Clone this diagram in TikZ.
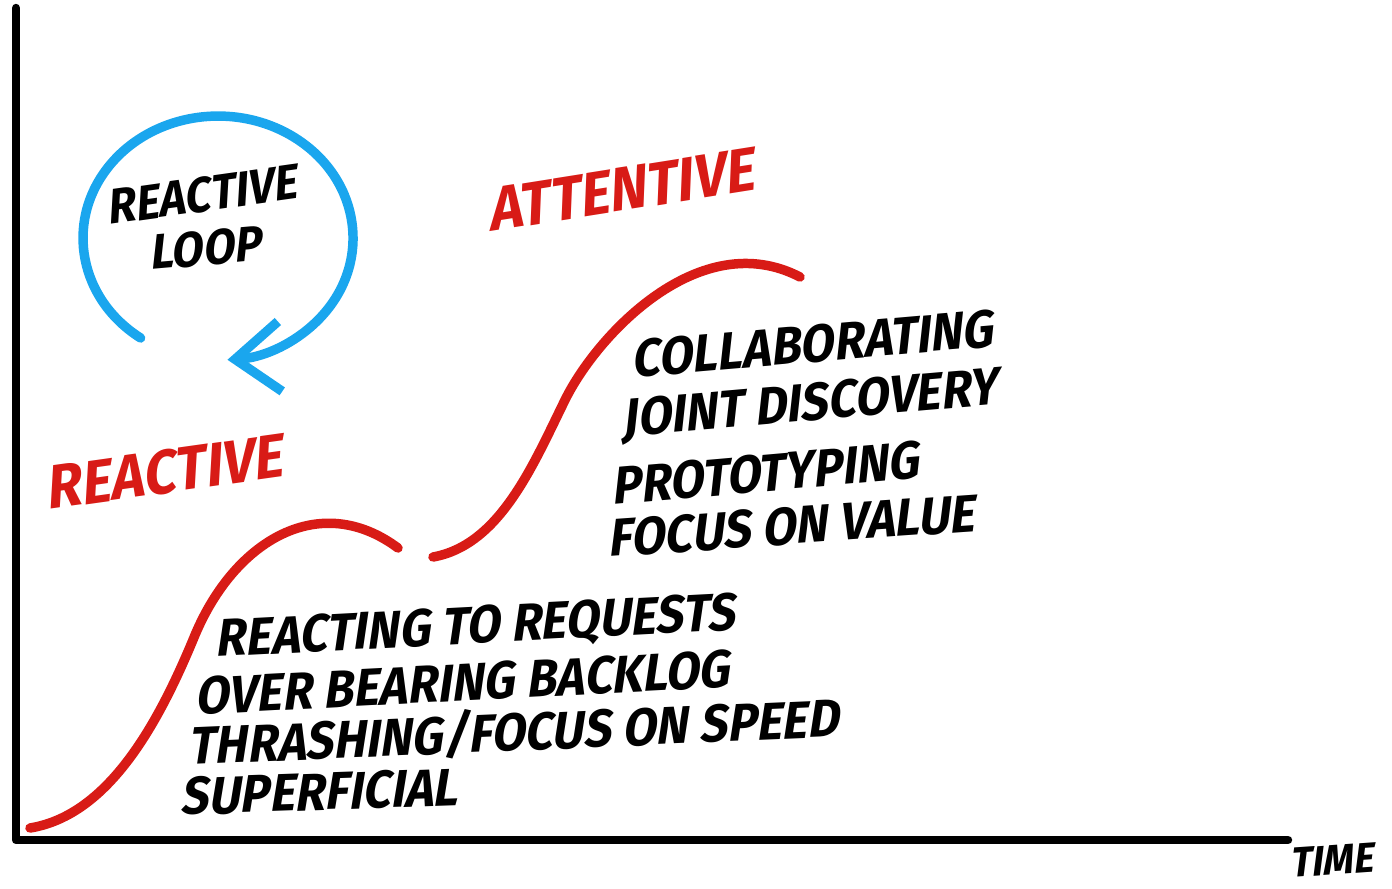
\documentclass[tikz,border=0pt]{standalone}
\usepackage{fontspec}
\usepackage{tikz}
\usetikzlibrary{arrows.meta}
\newfontfamily\handfont{Fira Sans}[FakeStretch=0.92, FakeSlant=0.2]
\definecolor{loopblue}{HTML}{1AA6EE}
\definecolor{markerred}{HTML}{D81B16}

\begin{document}
\begin{tikzpicture}[every node/.style={inner sep=0pt, anchor=base west}]
        \useasboundingbox (0,0) rectangle (13.92,8.88);
        \tikzset{
          hand/.style={font=\handfont\bfseries\fontsize{15}{17}\selectfont},
          redhand/.style={font=\handfont\bfseries\fontsize{17.5}{20}\selectfont, text=markerred},
          stroke/.style={line width=2.7pt, line cap=round}
        }
        % Axes
        \coordinate (ytop) at (0.16,8.80);
        \coordinate (origin) at (0.16,0.48);
        \coordinate (xend) at (12.88,0.48);
        \draw[line width=2.4pt, line cap=round, line join=round] (ytop) -- (origin) -- (xend);
        \node[hand, font=\handfont\bfseries\fontsize{12}{14}\selectfont, rotate=4] (time) at (12.90,0.10) {TIME};

        % Reactive loop
        \draw[stroke, loopblue, -{Straight Barb[length=4.5mm, width=7mm]}]
          (1.406,5.50) arc[start angle=235, end angle=-86, x radius=1.35, y radius=1.22];
        \node[hand, font=\handfont\bfseries\fontsize{14}{16}\selectfont, rotate=8] (loopA) at (1.08,6.63) {REACTIVE};
        \node[hand, font=\handfont\bfseries\fontsize{14}{16}\selectfont, rotate=5] (loopB) at (1.50,6.18) {LOOP};

        % Reactive stage
        \node[redhand, rotate=8] (reactive) at (0.47,3.78) {REACTIVE};
        \draw[stroke, markerred] (0.30,0.60) .. controls (1.10,0.73) and (1.60,1.68) .. (1.95,2.53)
          .. controls (2.35,3.48) and (3.20,3.98) .. (3.98,3.40);
        \node[hand, rotate=3] (r1) at (2.15,2.31) {REACTING TO REQUESTS};
        \node[hand, rotate=3] (r2) at (1.95,1.73) {OVER BEARING BACKLOG};
        \node[hand, rotate=2.5] (r3) at (1.88,1.23) {THRASHING/FOCUS ON SPEED};
        \node[hand, rotate=2] (r4) at (1.80,0.73) {SUPERFICIAL};

        % Attentive stage
        \node[redhand, rotate=9] (attentive) at (4.90,6.56) {ATTENTIVE};
        \draw[stroke, markerred] (4.33,3.31) .. controls (5.00,3.43) and (5.33,4.23) .. (5.65,4.88)
          .. controls (5.97,5.53) and (7.00,6.63) .. (8.00,6.11);
        \node[hand, rotate=5] (a1) at (6.32,5.10) {COLLABORATING};
        \node[hand, rotate=5] (a2) at (6.22,4.51) {JOINT DISCOVERY};
        \node[hand, rotate=5] (a3) at (6.12,3.83) {PROTOTYPING};
        \node[hand, rotate=4] (a4) at (6.08,3.31) {FOCUS ON VALUE};
      \end{tikzpicture}
\end{document}
